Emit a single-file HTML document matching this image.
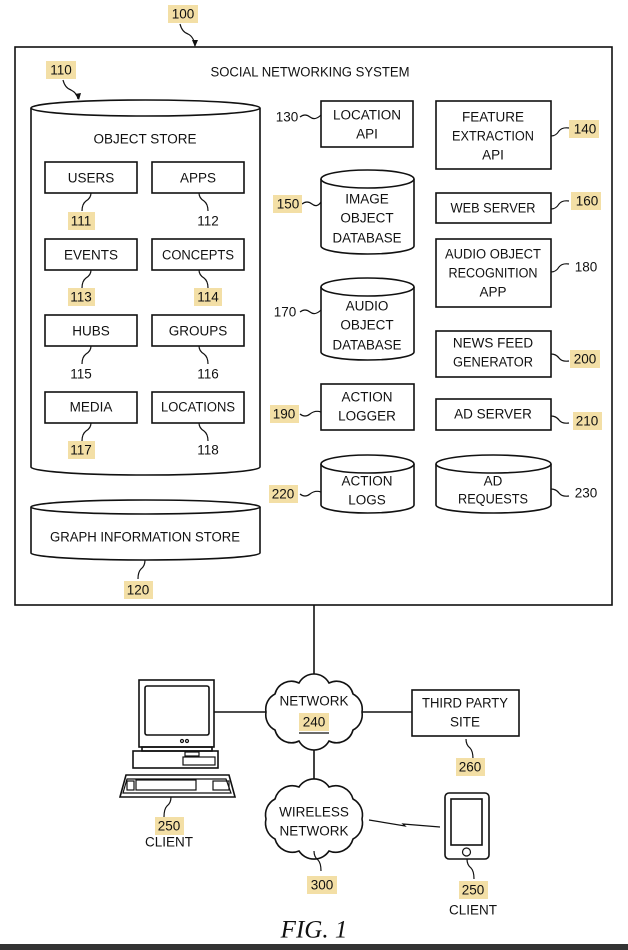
<!DOCTYPE html>
<html><head><meta charset="utf-8"><style>
html,body{margin:0;padding:0;background:#fff;}
svg{display:block;}
text{font-family:"Liberation Sans Narrow","Liberation Sans",sans-serif;font-size:13.5px;fill:#111;text-anchor:middle;dominant-baseline:central;}
.hl{fill:#f3dfa6;}
.s{fill:none;stroke:#111;stroke-width:1.6;}
.t{fill:none;stroke:#111;stroke-width:1.2;}
</style></head><body>
<svg width="628" height="950" viewBox="0 0 628 950" xmlns="http://www.w3.org/2000/svg">
<rect x="15" y="47" width="597" height="558" class="s" stroke-width="2"/>
<rect x="168" y="5" width="30" height="18" class="hl"/><text x="183" y="14">100</text>
<path d="M180,24 q2,8 8,10 q6,3 7,12" class="t"/><path d="M192,40 l3,7 l3,-7 z" fill="#111"/>
<text x="310" y="72" textLength="199" lengthAdjust="spacingAndGlyphs">SOCIAL NETWORKING SYSTEM</text>
<rect x="46" y="61" width="30" height="18" class="hl"/><text x="61" y="70">110</text>
<path d="M63,80 q2,8 8,10 q6,3 7,9" class="t"/><path d="M75,94 l4,6 l2,-7 z" fill="#111"/>

<path d="M31,108 L31,467 A114.5,8 0 0 0 260,467 L260,108" class="s"/>
<ellipse cx="145.5" cy="108" rx="114.5" ry="8" class="s"/>
<text x="145" y="139">OBJECT STORE</text>
<g class="s">
<rect x="45" y="162" width="92" height="31"/><rect x="152" y="162" width="92" height="31"/>
<rect x="45" y="239" width="92" height="31"/><rect x="152" y="239" width="92" height="31"/>
<rect x="45" y="315" width="92" height="31"/><rect x="152" y="315" width="92" height="31"/>
<rect x="45" y="392" width="92" height="31"/><rect x="152" y="392" width="92" height="31"/>
</g>
<text x="91" y="178">USERS</text><text x="198" y="178">APPS</text>
<text x="91" y="255">EVENTS</text><text x="198" y="255" textLength="72" lengthAdjust="spacingAndGlyphs">CONCEPTS</text>
<text x="91" y="331">HUBS</text><text x="198" y="331">GROUPS</text>
<text x="91" y="407">MEDIA</text><text x="198" y="407" textLength="74" lengthAdjust="spacingAndGlyphs">LOCATIONS</text>
<g class="t">
<path d="M91,193 q0,5 -5,8 q-4,3 -4,10"/><path d="M199,193 q0,5 5,8 q4,3 4,10"/>
<path d="M91,270 q0,5 -5,8 q-4,3 -4,10"/><path d="M199,270 q0,5 5,8 q4,3 4,10"/>
<path d="M91,346 q0,5 -5,8 q-4,3 -4,10"/><path d="M199,346 q0,5 5,8 q4,3 4,10"/>
<path d="M91,423 q0,5 -5,8 q-4,3 -4,10"/><path d="M199,423 q0,5 5,8 q4,3 4,10"/>
</g>
<rect x="68" y="212" width="27" height="18" class="hl"/><text x="81" y="221">111</text><text x="208" y="221">112</text>
<rect x="68" y="288" width="27" height="18" class="hl"/><text x="81" y="297">113</text>
<rect x="194" y="288" width="28" height="18" class="hl"/><text x="208" y="297">114</text>
<text x="81" y="374">115</text><text x="208" y="374">116</text>
<rect x="68" y="441" width="27" height="18" class="hl"/><text x="81" y="450">117</text><text x="208" y="450">118</text>

<path d="M31,507 L31,553 A114.5,7 0 0 0 260,553 L260,507" class="s"/>
<ellipse cx="145.5" cy="507" rx="114.5" ry="7" class="s"/>
<text x="145" y="537" textLength="190" lengthAdjust="spacingAndGlyphs">GRAPH INFORMATION STORE</text>
<path d="M145,560 q0,6 -4,9 q-3,3 -3,10" class="t"/>
<rect x="124" y="581" width="29" height="18" class="hl"/><text x="138" y="590">120</text>

<g class="s">
<rect x="321" y="101" width="92" height="46"/>
<rect x="436" y="101" width="115" height="68"/>
<rect x="436" y="193" width="115" height="30"/>
<rect x="436" y="239" width="115" height="68"/>
<rect x="436" y="331" width="115" height="46"/>
<rect x="321" y="384" width="93" height="46"/>
<rect x="436" y="399" width="115" height="31"/>
<path d="M321,179 L321,246 A46.5,8 0 0 0 414,246 L414,179"/><ellipse cx="367.5" cy="179" rx="46.5" ry="9"/>
<path d="M321,287 L321,352 A46.5,8 0 0 0 414,352 L414,287"/><ellipse cx="367.5" cy="287" rx="46.5" ry="9"/>
<path d="M321,464 L321,505 A46.5,8 0 0 0 414,505 L414,464"/><ellipse cx="367.5" cy="464" rx="46.5" ry="9"/>
<path d="M436,464 L436,505 A57.5,8 0 0 0 551,505 L551,464"/><ellipse cx="493.5" cy="464" rx="57.5" ry="9"/>
</g>
<text x="367" y="115">LOCATION</text><text x="367" y="134">API</text>
<text x="493" y="117">FEATURE</text><text x="493" y="136" textLength="82" lengthAdjust="spacingAndGlyphs">EXTRACTION</text><text x="493" y="155">API</text>
<text x="367" y="199">IMAGE</text><text x="367" y="218">OBJECT</text><text x="367" y="238" textLength="69" lengthAdjust="spacingAndGlyphs">DATABASE</text>
<text x="493" y="208" textLength="85" lengthAdjust="spacingAndGlyphs">WEB SERVER</text>
<text x="493" y="254" textLength="96" lengthAdjust="spacingAndGlyphs">AUDIO OBJECT</text><text x="493" y="273" textLength="89" lengthAdjust="spacingAndGlyphs">RECOGNITION</text><text x="493" y="292">APP</text>
<text x="367" y="306">AUDIO</text><text x="367" y="325">OBJECT</text><text x="367" y="345" textLength="69" lengthAdjust="spacingAndGlyphs">DATABASE</text>
<text x="493" y="343">NEWS FEED</text><text x="493" y="362" textLength="80" lengthAdjust="spacingAndGlyphs">GENERATOR</text>
<text x="367" y="397">ACTION</text><text x="367" y="416">LOGGER</text>
<text x="493" y="414">AD SERVER</text>
<text x="367" y="481">ACTION</text><text x="367" y="500">LOGS</text>
<text x="493" y="481">AD</text><text x="493" y="499" textLength="70" lengthAdjust="spacingAndGlyphs">REQUESTS</text>
<g class="t">
<path d="M300,117 q5,-4 10,0 q5,4 11,-2"/>
<path d="M302,204 q5,-4 10,0 q5,4 9,-2"/>
<path d="M300,312 q5,-4 10,0 q5,4 11,-2"/>
<path d="M300,414 q5,4 10,0 q5,-4 11,-2"/>
<path d="M300,494 q5,4 10,0 q5,-4 11,-2"/>
<path d="M551,136 q5,0 8,-5 q3,-4 10,-3"/>
<path d="M551,209 q5,0 8,-5 q3,-4 10,-3"/>
<path d="M551,272 q5,0 8,-5 q3,-4 10,-3"/>
<path d="M551,354 q5,0 8,4 q3,4 10,3"/>
<path d="M551,416 q5,0 8,4 q3,4 10,3"/>
<path d="M551,489 q5,0 8,4 q3,4 10,3"/>
</g>
<text x="287" y="117">130</text>
<rect x="273" y="195" width="29" height="18" class="hl"/><text x="288" y="204">150</text>
<text x="285" y="312">170</text>
<rect x="270" y="405" width="29" height="18" class="hl"/><text x="284" y="414">190</text>
<rect x="269" y="485" width="29" height="18" class="hl"/><text x="283" y="494">220</text>
<rect x="569" y="120" width="30" height="18" class="hl"/><text x="585" y="129">140</text>
<rect x="571" y="192" width="30" height="18" class="hl"/><text x="587" y="201">160</text>
<text x="586" y="267">180</text>
<rect x="570" y="350" width="30" height="18" class="hl"/><text x="585" y="359">200</text>
<rect x="573" y="412" width="29" height="18" class="hl"/><text x="587" y="421">210</text>
<text x="586" y="493">230</text>

<g class="s">
<line x1="314" y1="605" x2="314" y2="683"/>
<line x1="214" y1="712" x2="266" y2="712"/>
<line x1="362" y1="712" x2="412" y2="712"/>
<line x1="314" y1="741" x2="314" y2="785"/>
<path d="M362,712 A17,17 0 0 1 353,730 A17,17 0 0 1 329,741 A17,17 0 0 1 299,741 A17,17 0 0 1 275,730 A17,17 0 0 1 266,712 A17,17 0 0 1 275,694 A17,17 0 0 1 299,683 A17,17 0 0 1 329,683 A17,17 0 0 1 353,694 A17,17 0 0 1 362,712 Z" fill="#fff"/>
<path d="M362,819 A18,18 0 0 1 353,839 A18,18 0 0 1 329,851 A18,18 0 0 1 299,851 A18,18 0 0 1 275,839 A18,18 0 0 1 266,819 A18,18 0 0 1 275,799 A18,18 0 0 1 299,787 A18,18 0 0 1 329,787 A18,18 0 0 1 353,799 A18,18 0 0 1 362,819 Z" fill="#fff"/>
<rect x="412" y="690" width="107" height="46"/>
<rect x="139" y="680" width="75" height="67"/>
<rect x="145" y="686" width="64" height="49" rx="2"/>
<rect x="142" y="747" width="70" height="4"/>
<rect x="133" y="751" width="85" height="17"/>
<path d="M126,775 L229,775 L235,797 L120,797 Z"/>
<rect x="445" y="793" width="44" height="66" rx="4"/>
<rect x="451" y="799" width="31" height="46"/>
</g>
<g class="t">
<path d="M127,779 L226,779 L231,793 L123,793 Z"/>
<rect x="136" y="780" width="60" height="10"/>
<rect x="127" y="781" width="7" height="9"/>
<rect x="213" y="781" width="16" height="9"/>
<rect x="183" y="757" width="32" height="8"/>
<rect x="185" y="752" width="14" height="4"/>
<circle cx="182" cy="741" r="1.5"/><circle cx="187" cy="741" r="1.5"/>
<circle cx="466.5" cy="852" r="4"/>
<path d="M369,820 L405,826 L403,824 L440,827"/>
<path d="M171,797 q0,6 -4,9 q-3,3 -3,11"/>
<path d="M466,739 q0,6 4,9 q3,3 3,11"/>
<path d="M314,851 q0,6 4,9 q3,3 3,11"/>
<path d="M467,859 q0,6 4,9 q3,3 3,11"/>
</g>
<text x="314" y="701">NETWORK</text>
<rect x="299" y="713" width="30" height="18" class="hl"/><text x="314" y="722">240</text>
<line x1="299" y1="733" x2="329" y2="733" stroke="#111" stroke-width="1.2"/>
<text x="465" y="703" textLength="86" lengthAdjust="spacingAndGlyphs">THIRD PARTY</text><text x="465" y="722">SITE</text>
<rect x="456" y="758" width="29" height="18" class="hl"/><text x="470" y="767">260</text>
<text x="314" y="812">WIRELESS</text><text x="314" y="831">NETWORK</text>
<rect x="307" y="876" width="30" height="18" class="hl"/><text x="322" y="885">300</text>
<rect x="155" y="817" width="29" height="18" class="hl"/><text x="169" y="826">250</text>
<text x="169" y="842">CLIENT</text>
<rect x="459" y="881" width="29" height="18" class="hl"/><text x="473" y="890">250</text>
<text x="473" y="910">CLIENT</text>
<text x="314" y="930" style="font-family:'Liberation Serif',serif;font-style:italic;font-size:25px;">FIG. 1</text>
<rect x="0" y="944" width="628" height="6" fill="#333"/>
</svg>
</body></html>
